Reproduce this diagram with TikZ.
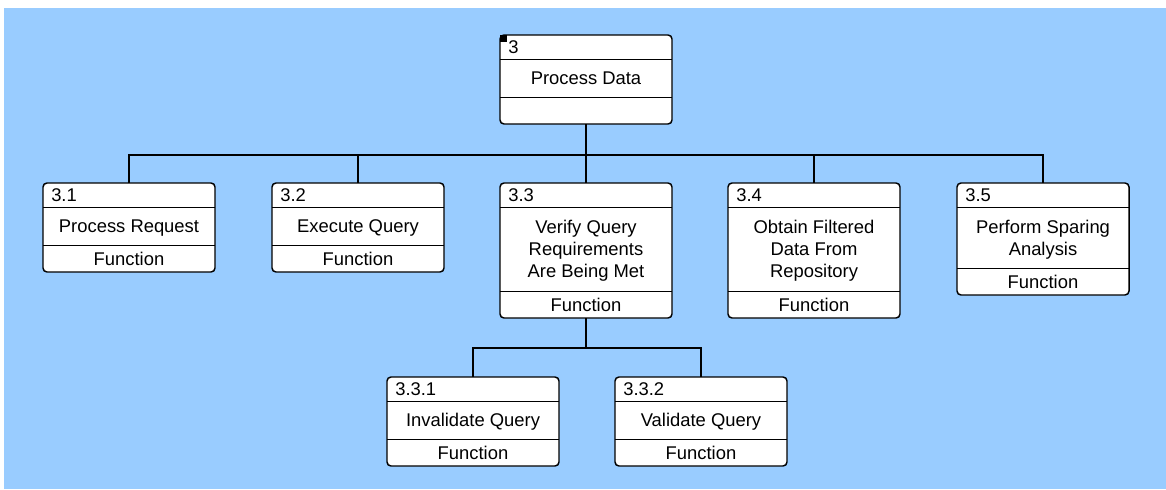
\documentclass[tikz,border=0pt]{standalone}
\usepackage{fontspec}
\setmainfont{Liberation Sans}
\usepackage{tikz}
\usepackage{xcolor}
\definecolor{diagblue}{RGB}{153,204,255}

% one function box: name, centre x, top y, middle height, number, title, footer
\newcommand{\funcbox}[7]{%
  \node[fbox, minimum height={(#4+51)*0.75pt}] (#1) at (#2,{#3+(#4+51)/2}) {};
  \draw ([yshift=-18pt]#1.north west) -- ([yshift=-18pt]#1.north east);
  \draw ([yshift={-(24+#4)*0.75pt}]#1.north west) -- ([yshift={-(24+#4)*0.75pt}]#1.north east);
  \node[numlabel] (#1-num) at ([xshift=6pt, yshift=-9pt]#1.north west) {#5};
  \node[titlelabel] (#1-title) at ([yshift={-(24+#4/2)*0.75pt}]#1.north) {#6};
  \node[footlabel] (#1-foot) at ([yshift=10.1pt]#1.south) {#7};
}

\begin{document}
\begin{tikzpicture}[x=0.75pt, y=-0.75pt,
    fbox/.style={draw, fill=white, rounded corners=3pt, line width=1.1pt,
        minimum width=129pt, inner sep=0pt, outer sep=0pt},
    numlabel/.style={anchor=west, inner sep=0pt, font=\fontsize{13.8}{16.5}\selectfont},
    titlelabel/.style={align=center, inner sep=0pt, text depth=0pt, font=\fontsize{13.8}{16.5}\selectfont},
    footlabel/.style={inner sep=0pt, font=\fontsize{13.8}{16.5}\selectfont},
    link/.style={line width=1.1pt}]
\useasboundingbox (0,0) rectangle (1166,489);
\fill[white] (0,0) rectangle (1166,489);
\fill[diagblue] (4,8) rectangle (1166,489);

% top level
\funcbox{root}{586}{35}{38}{3}{Process Data}{}
\fill (root.north west) rectangle ++(7,7);

% first level
\funcbox{f1}{129}{183}{38}{3.1}{Process Request}{Function}
\funcbox{f2}{358}{183}{38}{3.2}{Execute Query}{Function}
\funcbox{f3}{586}{183}{84}{3.3}{Verify Query\\Requirements\\Are Being Met}{Function}
\funcbox{f4}{814}{183}{84}{3.4}{Obtain Filtered\\Data From\\Repository}{Function}
\funcbox{f5}{1043}{183}{61}{3.5}{Perform Sparing\\Analysis}{Function}

% second level
\funcbox{g1}{473}{377}{38}{3.3.1}{Invalidate Query}{Function}
\funcbox{g2}{701}{377}{38}{3.3.2}{Validate Query}{Function}

% connectors
\coordinate (bus1) at (586,155);
\coordinate (bus2) at (586,348);
\draw[link] (root.south) -- (bus1);
\foreach \c in {f1,f2,f3,f4,f5} {
    \draw[link] (bus1) -| (\c.north);
}
\draw[link] (f3.south) -- (bus2);
\foreach \c in {g1,g2} {
    \draw[link] (bus2) -| (\c.north);
}
\end{tikzpicture}
\end{document}
